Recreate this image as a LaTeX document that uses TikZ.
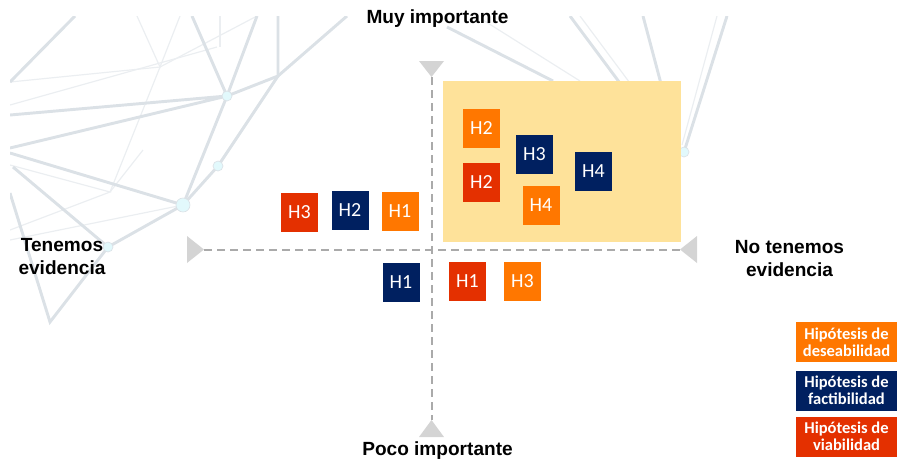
\documentclass[tikz,border=0pt]{standalone}
\usepackage{fontspec}
\setmainfont{Liberation Sans}
\newfontfamily\hypfont{Carlito}

\begin{document}
\begin{tikzpicture}[x=0.75pt, y=-0.75pt,
    hyp/.style={rectangle, minimum width=27.75pt, minimum height=29.25pt, inner sep=0pt,
                text=white, font=\hypfont\fontsize{15}{15}\selectfont},
    legbox/.style={rectangle, minimum width=75.75pt, minimum height=30pt, inner sep=0pt,
                   align=center, text=white, font=\hypfont\bfseries\fontsize{12.4}{12.8}\selectfont},
    axlabel/.style={inner sep=0pt, align=center, font=\bfseries\fontsize{14.3}{17.25}\selectfont},
    netthick/.style={draw=netline, line width=2.2pt},
    netthin/.style={draw=netline!55!white, line width=0.9pt},
    netdot/.style={circle, fill=netdot, draw=netline, line width=0.5pt, inner sep=0pt, minimum size=7.5pt},
    axisline/.style={draw=axisgray, line width=1.5pt, dash pattern=on 6pt off 3.75pt},
    tipmark/.style={fill=tipgray}]
    \definecolor{netline}{RGB}{219,225,230}
    \definecolor{netdot}{RGB}{226,249,252}
    \definecolor{axisgray}{RGB}{170,170,170}
    \definecolor{tipgray}{RGB}{212,212,212}
    \definecolor{zonefill}{RGB}{254,226,154}
    \definecolor{deseab}{RGB}{255,119,0}
    \definecolor{factib}{RGB}{0,32,96}
    \definecolor{viab}{RGB}{228,48,0}

    \useasboundingbox (0,0) rectangle (908,462);

    % background network
    \begin{scope}
        \clip (10,16) rectangle (908,462);
        \draw[netthin] (10,82) -- (160,67) -- (257,16);
        \draw[netthin] (10,105) -- (217,47);
        \draw[netthin] (137,16) -- (160,67) -- (180,16);
        \draw[netthin] (160,67) -- (110,192);
        \draw[netthin] (220,16) -- (220,47);
        \draw[netthin] (10,165) -- (110,192) -- (10,230);
        \draw[netthin] (110,192) -- (143,150);
        \draw[netthin] (10,240) -- (183,205);
        \draw[netthin] (483,20) -- (580,81);
        \draw[netthin] (580,16) -- (650,110);
        \draw[netthin] (717,16) -- (682,145);
        \draw[netthick] (75,16) -- (10,82);
        \draw[netthick] (192,16) -- (227,96) -- (257,16);
        \draw[netthick] (227,96) -- (278,76) -- (278,16);
        \draw[netthick] (347,16) -- (278,76) -- (218,166) -- (183,205);
        \draw[netthick] (10,115) -- (227,96) -- (10,148);
        \draw[netthick] (227,96) -- (183,205) -- (10,153);
        \draw[netthick] (13,167) -- (108,247) -- (183,205);
        \draw[netthick] (108,247) -- (50,322) -- (10,193);
        \draw[netthick] (447,27) -- (553,81);
        \draw[netthick] (570,16) -- (640,110);
        \draw[netthick] (643,16) -- (668,110);
        \draw[netthick] (727,16) -- (684,152);
        \node[netdot] (na) at (227,96) {};
        \node[netdot] (nb) at (218,166) {};
        \node[netdot, minimum size=10.5pt] (nc) at (183,205) {};
        \node[netdot] (nd) at (108,247) {};
        \node[netdot] (ne) at (684,152) {};
    \end{scope}

    % priority zone
    \fill[zonefill] (443,81) rectangle (681,242);

    % axes
    \coordinate (ytop) at (431.5,77);
    \coordinate (ybot) at (431.5,420);
    \coordinate (xleft) at (204,249.5);
    \coordinate (xright) at (680,249.5);
    \draw[axisline] (ytop) -- (ybot);
    \draw[axisline] (xleft) -- (xright);
    \fill[tipmark] (ytop) -- ++(-12.5,-16) -- ++(25,0) -- cycle;
    \fill[tipmark] (ybot) -- ++(-12.5,17) -- ++(25,0) -- cycle;
    \fill[tipmark] (xleft) -- ++(-17,-13.5) -- ++(0,27) -- cycle;
    \fill[tipmark] (xright) -- ++(17,-13.5) -- ++(0,27) -- cycle;

    \node[axlabel, anchor=base] (muy) at (437.5,23) {Muy importante};
    \node[axlabel, anchor=base] (poco) at (437.5,455) {Poco importante};
    \node[axlabel, anchor=north] (con) at (62,238) {Tenemos\\evidencia};
    \node[axlabel, anchor=north] (sin) at (789.5,240) {No tenemos\\evidencia};

    % hypotheses
    \node[hyp, fill=viab]   (h3v) at (299.5,212) {H3};
    \node[hyp, fill=factib] (h2f) at (350,210.5) {H2};
    \node[hyp, fill=deseab] (h1d) at (400,211.5) {H1};
    \node[hyp, fill=factib] (h1f) at (401,282) {H1};
    \node[hyp, fill=viab]   (h1v) at (467.5,281.5) {H1};
    \node[hyp, fill=deseab] (h3d) at (522.5,281.5) {H3};
    \node[hyp, fill=deseab] (h2d) at (481.5,128.5) {H2};
    \node[hyp, fill=viab]   (h2v) at (481.5,182.5) {H2};
    \node[hyp, fill=factib] (h3f) at (534.5,154) {H3};
    \node[hyp, fill=factib] (h4f) at (593.5,171.5) {H4};
    \node[hyp, fill=deseab] (h4d) at (541,205.5) {H4};

    % legend
    \node[legbox, fill=deseab] (legd) at (846.5,342) {Hipótesis de\\deseabilidad};
    \node[legbox, fill=factib] (legf) at (846.5,390.5) {Hipótesis de\\factibilidad};
    \node[legbox, fill=viab]   (legv) at (846.5,436.5) {Hipótesis de\\viabilidad};
\end{tikzpicture}
\end{document}
